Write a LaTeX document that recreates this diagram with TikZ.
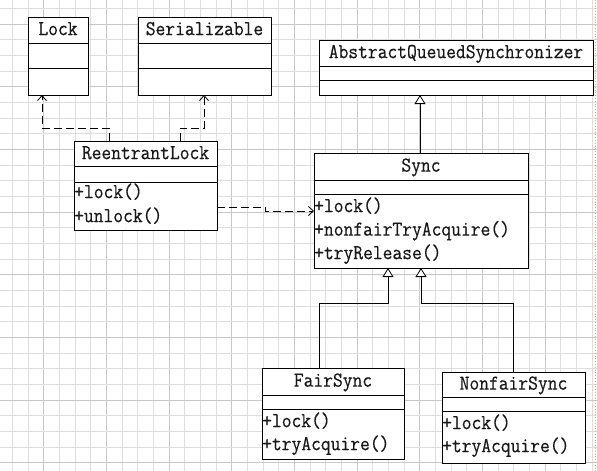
\documentclass[tikz,border=0pt]{standalone}
\usepackage{fontspec}
\usetikzlibrary{arrows.meta,calc}
\newfontfamily\umlfam{Latin Modern Mono}[FakeBold=0.5]
\newcommand\umlfont{\fontsize{19}{23}\selectfont\umlfam}
\newcommand\umltxt[1]{\scalebox{1}[1.12]{#1}}
\newcommand\umldiv[3]{%
  \draw[divl] ([yshift=-#2pt]#1.north west) -- ([yshift=-#2pt]#1.north east);
  \draw[divl] ([yshift=-#3pt]#1.north west) -- ([yshift=-#3pt]#1.north east);}
\definecolor{gridlight}{RGB}{222,222,222}
\definecolor{griddark}{RGB}{200,200,200}
\definecolor{pageedge}{RGB}{240,160,90}
\begin{document}
\begin{tikzpicture}[x=1pt,y=-1pt,
  cls/.style={draw=black, line width=0.8pt, fill=white, anchor=north west, inner sep=0pt, outer sep=0pt},
  divl/.style={line width=0.8pt},
  ttl/.style={font=\umlfont, text=black!90, inner sep=0pt, anchor=mid},
  mth/.style={font=\umlfont, text=black!90, inner sep=0pt, anchor=mid west},
  dep/.style={line width=0.8pt, dash pattern=on 8pt off 4pt, -{Straight Barb[length=5pt,width=9pt]}},
  gen/.style={line width=0.8pt, -{Triangle[open,length=9pt,width=11pt,fill=white]}},
  gl/.style={draw=gridlight, line width=0.7pt},
  gd/.style={draw=griddark, line width=0.8pt}]
\useasboundingbox (0,0) rectangle (597,471);
\fill[white] (0,0) rectangle (597,471);
\begin{scope}
\clip (0,0) rectangle (597,471);
\foreach \k in {0,...,37} {
  \pgfmathsetmacro\gx{12.3+\k*15.67}
  \pgfmathtruncatemacro\gm{mod(\k,4)}
  \ifnum\gm=2 \draw[gd] (\gx,0) -- (\gx,471); \else \draw[gl] (\gx,0) -- (\gx,471); \fi
}
\foreach \k in {0,...,30} {
  \pgfmathsetmacro\gy{8.3+\k*15.67}
  \pgfmathtruncatemacro\gm{mod(\k,4)}
  \ifnum\gm=1 \draw[gd] (0,\gy) -- (597,\gy); \else \draw[gl] (0,\gy) -- (597,\gy); \fi
}
\draw[pageedge, line width=0.8pt, dotted] (595,0) -- (595,471);
\end{scope}

% classes
\node[cls, minimum width=60pt, minimum height=78pt] (lock) at (28,17) {};
\umldiv{lock}{26}{51}
\node[ttl] (lockt) at (58,33) {\umltxt{Lock}};

\node[cls, minimum width=133pt, minimum height=78pt] (ser) at (138,17) {};
\umldiv{ser}{26}{51}
\node[ttl] (sert) at (204.5,33) {\umltxt{Serializable}};

\node[cls, minimum width=143pt, minimum height=89pt] (rl) at (74,141) {};
\umldiv{rl}{25}{41}
\node[ttl] (rlt) at (145.5,157) {\umltxt{ReentrantLock}};
\node[mth] (rlm1) at (74,196) {\umltxt{+lock()}};
\node[mth] (rlm2) at (74,220) {\umltxt{+unlock()}};

\node[cls, minimum width=274pt, minimum height=55pt] (aqs) at (319,40) {};
\umldiv{aqs}{26}{40}
\node[ttl] (aqst) at (456,56) {\umltxt{AbstractQueuedSynchronizer}};

\node[cls, minimum width=214pt, minimum height=115pt] (sync) at (314,153) {};
\umldiv{sync}{27}{41}
\node[ttl] (synct) at (421,169.5) {\umltxt{Sync}};
\node[mth] (sm1) at (314,210) {\umltxt{+lock()}};
\node[mth] (sm2) at (314,233.5) {\umltxt{+nonfairTryAcquire()}};
\node[mth] (sm3) at (314,257) {\umltxt{+tryRelease()}};

\node[cls, minimum width=142pt, minimum height=91pt] (fs) at (262,368) {};
\umldiv{fs}{27}{41}
\node[ttl] (fst) at (333,384.5) {\umltxt{FairSync}};
\node[mth] (fm1) at (262,425) {\umltxt{+lock()}};
\node[mth] (fm2) at (262,448) {\umltxt{+tryAcquire()}};

\node[cls, minimum width=143pt, minimum height=91pt] (nfs) at (442,372) {};
\umldiv{nfs}{25}{39}
\node[ttl] (nfst) at (513.5,387.5) {\umltxt{NonfairSync}};
\node[mth] (nm1) at (442,427) {\umltxt{+lock()}};
\node[mth] (nm2) at (442,450) {\umltxt{+tryAcquire()}};

% connectors
\draw[dep] ([xshift=35pt]rl.north west) -- ++(0,-13) -| ([xshift=14pt]lock.south west);
\draw[dep] ([xshift=106pt]rl.north west) -- ++(0,-13) -| ([xshift=66pt]ser.south west);
\draw[dep] ([yshift=-66pt]rl.north east) -- ++(48,0) -- ++(0,4) -- ([yshift=-58pt]sync.north west);
\draw[gen] ([xshift=106pt]sync.north west) -- ([xshift=101pt]aqs.south west);
\draw[gen] ([xshift=57pt]fs.north west) |- (388,303) -- ([xshift=74pt]sync.south west);
\draw[gen] ([xshift=71pt]nfs.north west) |- (421,303) -- ([xshift=107pt]sync.south west);
\end{tikzpicture}
\end{document}
